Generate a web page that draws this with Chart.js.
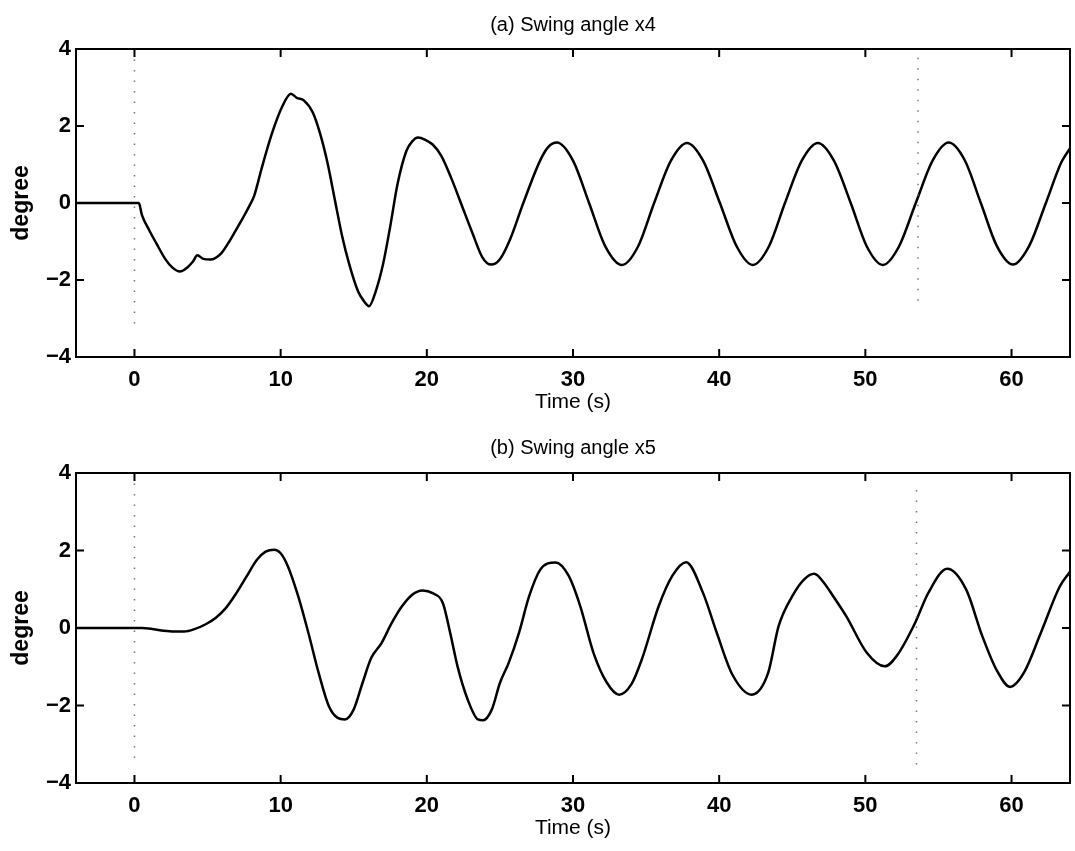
<!DOCTYPE html>
<html>
<head>
<meta charset="utf-8">
<title>Swing angle x4 / x5</title>
<script src="https://cdn.jsdelivr.net/npm/chart.js@4.4.0/dist/chart.umd.min.js"></script>
<style>
  html, body { margin: 0; padding: 0; background: #fff; }
  canvas { display: block; }
</style>
</head>
<body>
<canvas id="chartX4" width="1075" height="425"></canvas>
<canvas id="chartX5" width="1075" height="426"></canvas>
<script>
// Swing angle traces, time in seconds, angle in degrees
const timeX4 = [-4, 0.3, 0.5, 1.0, 1.5, 2.1, 2.6, 3.1, 3.6, 4.0, 4.3, 4.7, 5.2, 5.9, 6.4, 6.9, 7.4, 7.8, 8.2, 8.7,
  9.4, 10.1, 10.7, 11.1, 11.6, 12.2, 12.7, 13.2, 13.7, 14.2, 14.7, 15.3, 15.7, 16.05, 16.5, 17.0, 17.5, 18.0, 18.6, 19.0,
  19.4, 19.9, 20.4, 21.0, 21.7, 22.4, 23.1, 23.8, 24.4, 25.0, 25.7, 26.6, 27.75, 28.3, 28.9, 30.0, 31.1, 32.2, 33.35, 34.45,
  35.55, 36.7, 37.8, 38.9, 40.05, 41.2, 42.3, 43.4, 44.5, 45.65, 46.75, 47.85, 49.0, 50.1, 51.2, 52.3, 53.45, 54.6, 55.7, 56.8,
  57.9, 59.0, 60.1, 61.2, 62.35, 63.4, 64.0];
const swingX4 = [0, 0, -0.3, -0.7, -1.05, -1.45, -1.68, -1.78, -1.68, -1.52, -1.36, -1.45, -1.47, -1.32, -1.05, -0.73, -0.4, -0.12, 0.2, 0.9,
  1.8, 2.5, 2.84, 2.73, 2.66, 2.35, 1.8, 1.05, 0.1, -0.85, -1.6, -2.3, -2.55, -2.68, -2.3, -1.6, -0.6, 0.5, 1.35, 1.6,
  1.7, 1.64, 1.52, 1.22, 0.62, -0.07, -0.76, -1.41, -1.6, -1.46, -0.94, 0.0, 1.1, 1.45, 1.57, 1.1, 0.0, -1.12, -1.61, -1.13,
  0.0, 1.1, 1.56, 1.1, 0.0, -1.13, -1.61, -1.13, 0.0, 1.1, 1.56, 1.1, 0.0, -1.13, -1.61, -1.13, 0.0, 1.1, 1.57, 1.11,
  0.0, -1.12, -1.6, -1.12, 0.0, 1.05, 1.42];

const timeX5 = [-4, 0.5, 1.3, 2.0, 2.7, 3.4, 4.1, 4.84, 5.55, 6.26, 6.97, 7.67, 8.38, 8.97, 9.56, 10.0, 10.5, 11.2, 11.9, 12.6,
  13.3, 13.9, 14.4, 15.0, 15.6, 16.2, 16.9, 17.6, 18.3, 19.0, 19.7, 20.4, 21.1, 21.6, 22.1, 22.8, 23.5, 23.85, 24.45, 25.0,
  25.6, 26.3, 27.0, 27.75, 28.8, 29.7, 30.5, 31.4, 32.3, 33.16, 34.0, 34.7, 35.86, 36.8, 37.74, 38.9, 39.84, 40.9, 42.23, 43.35,
  44.06, 45.0, 45.8, 46.5, 47.2, 47.8, 48.7, 50.1, 51.33, 52.2, 53.4, 54.3, 55.6, 56.9, 58.0, 59.0, 59.9, 60.84, 62.0, 63.3,
  64.0];
const swingX5 = [0, 0, -0.03, -0.07, -0.09, -0.09, -0.03, 0.09, 0.26, 0.52, 0.9, 1.33, 1.76, 1.97, 2.02, 1.93, 1.59, 0.82, -0.13, -1.16,
  -2.02, -2.32, -2.36, -2.1, -1.42, -0.77, -0.39, 0.13, 0.56, 0.86, 0.97, 0.9, 0.64, -0.13, -0.99, -1.85, -2.36, -2.38, -2.1, -1.42,
  -0.9, -0.13, 0.82, 1.5, 1.69, 1.35, 0.56, -0.64, -1.4, -1.72, -1.45, -0.82, 0.56, 1.35, 1.7, 0.9, -0.13, -1.2, -1.72, -1.16,
  0.04, 0.82, 1.25, 1.4, 1.15, 0.82, 0.3, -0.64, -0.99, -0.69, 0.13, 0.9, 1.53, 0.99, -0.21, -1.1, -1.52, -1.16, -0.13, 1.07,
  1.45];

// faint dotted event markers: time, upper and lower end
const markersX4 = [[0, 4, -3.3], [53.6, 3.77, -2.57]];
const markersX5 = [[0, 4, -3.5], [53.5, 3.56, -3.56]];

const xTickValues = [0, 10, 20, 30, 40, 50, 60];
const yTickValues = [-4, -2, 0, 2, 4];

const COLOR_INK = "#000";
const COLOR_DOTS = "#777";
const FONT = "'Liberation Sans', Arial, Helvetica, sans-serif";
const TICK_LEN = 8;

// frame around the plot with inward ticks on all four sides
const boxTicks = {
  id: 'boxTicks',
  afterDatasetsDraw(chart) {
    const { ctx, chartArea: a, scales: { x, y } } = chart;
    ctx.save();
    ctx.strokeStyle = COLOR_INK;
    ctx.lineWidth = 2;
    ctx.beginPath();
    x.ticks.forEach(t => {
      const px = x.getPixelForValue(t.value);
      ctx.moveTo(px, a.bottom); ctx.lineTo(px, a.bottom - TICK_LEN);
      ctx.moveTo(px, a.top); ctx.lineTo(px, a.top + TICK_LEN);
    });
    y.ticks.forEach(t => {
      const py = y.getPixelForValue(t.value);
      ctx.moveTo(a.left, py); ctx.lineTo(a.left + TICK_LEN, py);
      ctx.moveTo(a.right, py); ctx.lineTo(a.right - TICK_LEN, py);
    });
    ctx.stroke();
    ctx.strokeRect(a.left, a.top, a.right - a.left, a.bottom - a.top);
    ctx.restore();
  }
};

const zip = (xs, ys) => xs.map((t, i) => ({ x: t, y: ys[i] }));
// typographic minus for negative tick labels
const minusLabel = v => (v < 0 ? '\u2212' + Math.abs(v) : String(v));

function makeSwingChart(id, title, times, values, markers, titlePad) {
  const markerSets = markers.map(([t, hi, lo]) => ({
    data: [{ x: t, y: hi }, { x: t, y: lo }],
    borderColor: COLOR_DOTS,
    borderWidth: 1.5,
    borderDash: [1.5, 9],
    pointRadius: 0
  }));
  return new Chart(document.getElementById(id), {
    type: 'line',
    data: {
      datasets: [...markerSets, {
        data: zip(times, values),
        borderColor: COLOR_INK,
        borderWidth: 2.5,
        pointRadius: 0,
        cubicInterpolationMode: 'monotone'
      }]
    },
    options: {
      responsive: false,
      animation: false,
      layout: { padding: { left: 0, right: 5, top: 0, bottom: 0 } },
      plugins: {
        legend: { display: false },
        tooltip: { enabled: false },
        title: {
          display: true,
          text: title,
          fullSize: false,
          color: COLOR_INK,
          font: { family: FONT, size: 20, weight: 'normal' },
          padding: titlePad
        }
      },
      scales: {
        x: {
          type: 'linear',
          min: -4, max: 64,
          afterBuildTicks: s => { s.ticks = xTickValues.map(v => ({ value: v })); },
          afterFit: s => { s.height = 68; },
          grid: { display: false, drawTicks: false },
          border: { display: false },
          ticks: { color: COLOR_INK, padding: 10, maxRotation: 0, font: { family: FONT, size: 22, weight: 'bold' } },
          title: {
            display: true, text: 'Time (s)', color: COLOR_INK,
            font: { family: FONT, size: 21, weight: 'normal' },
            padding: { top: 0, bottom: 10 }
          }
        },
        y: {
          min: -4, max: 4,
          afterBuildTicks: s => { s.ticks = yTickValues.map(v => ({ value: v })); },
          afterFit: s => { s.width = 76; },
          grid: { display: false, drawTicks: false },
          border: { display: false },
          ticks: { color: COLOR_INK, padding: 5, callback: minusLabel, font: { family: FONT, size: 22, weight: 'bold' } },
          title: {
            display: true, text: 'degree', color: COLOR_INK,
            font: { family: FONT, size: 23, weight: 'bold' },
            padding: { top: 8, bottom: 0 }
          }
        }
      }
    },
    plugins: [boxTicks]
  });
}

makeSwingChart('chartX4', '(a) Swing angle x4', timeX4, swingX4, markersX4, { top: 13, bottom: 12 });
makeSwingChart('chartX5', '(b) Swing angle x5', timeX5, swingX5, markersX5, { top: 11, bottom: 13 });
</script>
</body>
</html>
